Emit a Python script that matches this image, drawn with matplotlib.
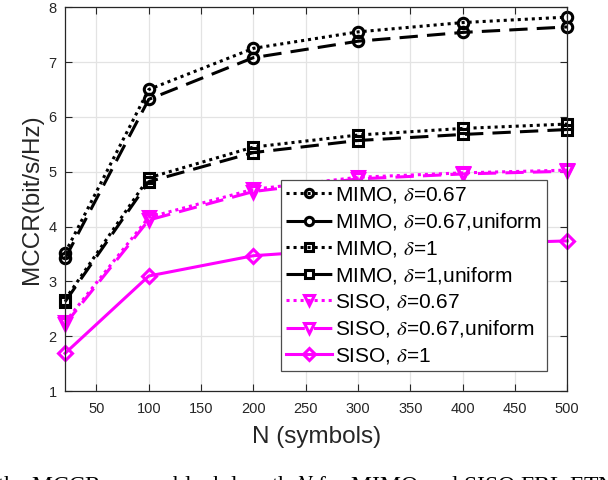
import matplotlib
matplotlib.use('Agg')
import matplotlib.pyplot as plt

N = [20, 100, 200, 300, 400, 500]

mimo_067 = [3.52, 6.50, 7.25, 7.55, 7.72, 7.82]
mimo_067_uni = [3.42, 6.32, 7.08, 7.38, 7.54, 7.64]
mimo_1 = [2.67, 4.89, 5.45, 5.67, 5.79, 5.87]
mimo_1_uni = [2.63, 4.82, 5.35, 5.57, 5.68, 5.77]
siso_067 = [2.26, 4.17, 4.68, 4.90, 4.98, 5.03]
siso_067_uni = [2.22, 4.12, 4.64, 4.87, 4.96, 5.01]
siso_1 = [1.69, 3.10, 3.47, 3.60, 3.68, 3.74]

labels = [r'MIMO, $\delta$=0.67', r'MIMO, $\delta$=0.67,uniform',
          r'MIMO, $\delta$=1', r'MIMO, $\delta$=1,uniform',
          r'SISO, $\delta$=0.67', r'SISO, $\delta$=0.67,uniform',
          r'SISO, $\delta$=1']

plt.rcParams['font.family'] = ['Liberation Sans', 'DejaVu Sans']
plt.rcParams['mathtext.fontset'] = 'stix'

MAG = '#ff00ff'
DOT = (0, (1, 1.3))
DASH = (0, (6, 3))

fig = plt.figure(figsize=(6.08, 4.8), dpi=100)
ax = fig.add_axes([0.107, 0.185, 0.826, 0.8])

series = [
    (mimo_067, 'k', DOT, 'o'),
    (mimo_067_uni, 'k', DASH, 'o'),
    (mimo_1, 'k', DOT, 's'),
    (mimo_1_uni, 'k', DASH, 's'),
    (siso_067, MAG, DOT, 'v'),
    (siso_067_uni, MAG, DASH, 'v'),
    (siso_1, MAG, '-', 'D'),
]
for (vals, c, ls, m), lab in zip(series, labels):
    ms = {'v': 9, 'D': 7.5}.get(m, 7.5)
    ax.plot(N, vals, color=c, ls=ls, lw=2.2, marker=m, ms=ms,
            mfc='none', mec=c, mew=2.2, label=lab, clip_on=False)

ax.set_xlim(20, 500)
ax.set_ylim(1, 8)
ax.set_xticks(range(50, 501, 50))
ax.set_yticks(range(1, 9))
ax.grid(True, color='#e3e3e3', lw=0.9)
ax.set_axisbelow(True)
ax.tick_params(direction='in', top=True, right=True, labelsize=10.5,
               colors='#262626', length=5)
ax.tick_params(axis='x', pad=8)
ax.tick_params(axis='y', pad=6)
for s in ax.spines.values():
    s.set_color('#262626')
    s.set_linewidth(0.9)
ax.set_xlabel('N (symbols)', fontsize=17.5, color='#262626', labelpad=7)
ax.set_ylabel('MCCR(bit/s/Hz)', fontsize=17.5, color='#262626', labelpad=4)

leg = ax.legend(loc='upper left', bbox_to_anchor=(0.43, 0.55), fontsize=15,
                frameon=True, fancybox=False, edgecolor='#4d4d4d', framealpha=1,
                handlelength=2.2, handletextpad=0.15, borderpad=0.25,
                labelspacing=0.3, borderaxespad=0, markerscale=0.8)
leg.get_frame().set_linewidth(0.9)

fig.text(-0.005, -0.024, r'the MCCR versus block length $N$ for MIMO and SISO FBL FTN',
         family=['Liberation Serif', 'DejaVu Serif'], fontsize=17,
         ha='left', va='baseline')

fig.savefig('out.png', dpi=100)
